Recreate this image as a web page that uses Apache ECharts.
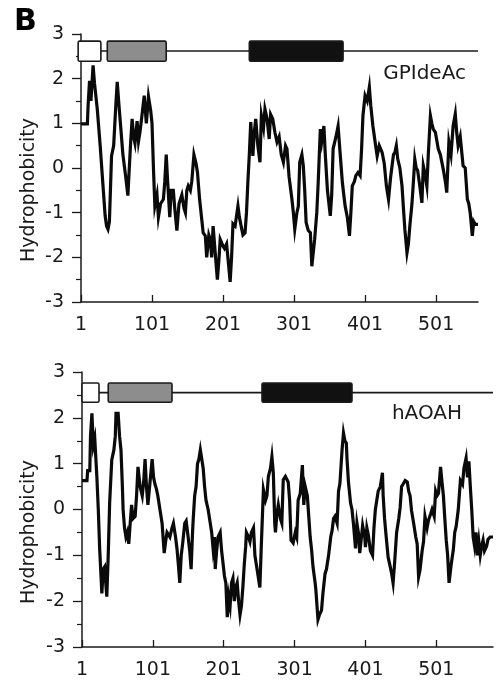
<!DOCTYPE html>
<html>
<head>
<meta charset="utf-8">
<script src="https://cdn.jsdelivr.net/npm/echarts@6/dist/echarts.min.js"></script>
<style>
html,body{margin:0;padding:0;background:#fff;}
#chart{width:499px;height:700px;}
</style>
</head>
<body>
<div id="chart"></div>
<script>
// ---- data ----
const xTickValues = [1, 101, 201, 301, 401, 501];
const panelLabel = 'B';
const yAxisTitle = 'Hydrophobicity';
const proteinNames = ['GPIdeAc', 'hAOAH'];
const proteinLengths = [560, 581];

// domain diagrams: [start, end, kind]
const gpideacDomains = [[-3, 29, 'open'], [38, 121, 'gray'], [238, 370, 'solid']];
const haoahDomains = [[1, 25, 'open'], [38, 128, 'gray'], [255, 382, 'solid']];

// hydrophobicity profiles: [residue, value]
const gpideacProfile = [
[1,0.99],[10,0.99],[11,1.4],[13,1.95],[15,1.5],[18,2.3],[20,1.9],[24,1.3],[28,0.5],[32,-0.4],
[35,-1.07],[37,-1.3],[39,-1.37],[41,-1.2],[44,0.27],[47,0.5],[50,1.4],[52,1.93],[54,1.5],[57,0.9],
[60,0.3],[64,-0.2],[67,-0.62],[69,0.0],[71,0.6],[73,1.1],[75,0.7],[77,0.55],[80,1.05],[82,0.6],
[84,0.8],[87,1.2],[90,1.62],[93,1.0],[96,1.6],[99,1.3],[101,1.0],[103,0.0],[105,-0.85],[108,-0.6],
[110,-1.1],[113,-0.8],[117,-0.7],[119,-0.3],[121,0.3],[123,-0.3],[126,-1.1],[128,-0.5],[131,-0.5],[133,-0.9],
[136,-1.4],[139,-0.8],[143,-0.6],[146,-0.9],[148,-1.0],[150,-0.5],[152,-0.4],[155,-0.5],[157,-0.3],[160,0.3],
[163,0.1],[165,-0.1],[168,-0.7],[170,-1.0],[173,-1.45],[176,-1.52],[178,-2.0],[181,-1.5],[183,-1.6],[185,-2.0],
[187,-1.3],[190,-1.9],[193,-2.5],[195,-2.1],[197,-1.6],[201,-1.75],[203,-1.8],[206,-1.7],[209,-2.2],[211,-2.55],
[213,-2.0],[215,-1.25],[218,-1.3],[222,-0.85],[224,-1.1],[226,-1.1],[229,-1.5],[232,-1.45],[234,-1.0],[236,-0.3],
[238,0.3],[240,1.03],[243,0.27],[245,0.8],[247,1.1],[250,0.5],[253,0.13],[255,1.17],[258,0.9],[260,1.32],
[263,1.1],[266,0.65],[268,1.2],[271,1.1],[274,0.8],[277,0.58],[280,0.7],[283,0.3],[286,0.13],[289,0.5],
[291,0.43],[294,-0.2],[298,-0.7],[300,-1.0],[302,-1.37],[305,-1.0],[307,-0.86],[309,0.13],[312,0.3],[314,0.05],
[316,-0.5],[318,-1.22],[321,-1.4],[324,-1.45],[326,-2.2],[328,-1.9],[330,-1.6],[333,-1.0],[335,-0.32],[338,0.87],
[340,0.6],[343,0.94],[345,0.3],[348,-0.5],[352,-1.07],[354,-0.6],[356,0.43],[360,0.7],[363,0.94],[366,0.3],
[369,-0.32],[371,-0.6],[373,-0.86],[376,-1.1],[379,-1.52],[381,-1.0],[383,-0.4],[386,-0.3],[388,-0.17],[391,-0.1],
[394,-0.17],[396,0.4],[398,1.17],[401,1.62],[404,1.5],[407,1.81],[409,1.4],[412,0.94],[415,0.6],[418,0.27],
[421,0.5],[425,0.35],[428,0.1],[431,-0.4],[434,-0.7],[437,-0.2],[439,0.05],[441,0.3],[443,0.35],[445,0.5],
[447,0.2],[450,0.0],[453,-0.4],[455,-0.9],[457,-1.37],[460,-1.9],[462,-1.7],[464,-1.3],[467,-0.8],[469,-0.32],
[471,0.2],[473,0.0],[475,-0.05],[478,-0.4],[481,-0.78],[483,0.05],[485,-0.1],[488,-0.4],[490,0.3],[493,1.17],
[495,1.0],[497,0.87],[500,0.8],[504,0.43],[507,0.3],[511,-0.02],[514,-0.3],[516,-0.55],[519,0.58],[522,0.3],
[525,0.94],[528,1.21],[530,0.8],[532,0.5],[535,0.7],[539,0.05],[542,0.0],[545,-0.7],[547,-0.8],[549,-1.0],
[552,-1.52],[554,-1.2],[556,-1.26],[560,-1.26]
];

const haoahProfile = [
[1,0.63],[8,0.63],[9,0.85],[12,0.85],[13,1.6],[15,2.1],[17,1.4],[19,1.55],[22,0.7],[24,0.0],
[26,-0.88],[28,-1.5],[29,-1.83],[31,-1.3],[33,-1.25],[35,-1.7],[36,-1.9],[38,-1.0],[40,0.14],[43,1.08],
[46,1.3],[48,1.6],[49,2.1],[52,2.1],[54,1.6],[56,1.3],[58,0.5],[59,0.0],[61,-0.4],[63,-0.6],
[65,-0.5],[67,-0.75],[69,-0.3],[71,0.1],[73,-0.2],[76,-0.15],[78,0.3],[80,0.93],[83,0.5],[86,0.3],
[88,0.6],[90,1.1],[92,0.5],[94,0.1],[97,0.6],[100,1.1],[102,0.7],[104,0.55],[106,0.45],[108,0.3],
[111,0.0],[114,-0.3],[117,-0.95],[119,-0.7],[121,-0.5],[123,-0.55],[125,-0.6],[128,-0.4],[130,-0.3],[133,-0.6],
[135,-0.85],[137,-1.2],[139,-1.6],[141,-1.0],[143,-0.75],[146,-0.3],[148,-0.25],[150,-0.5],[153,-0.9],[155,-1.3],
[157,-0.5],[158,-0.2],[160,0.3],[162,0.5],[164,1.0],[166,1.1],[168,1.3],[170,1.1],[172,0.9],[174,0.5],
[176,0.2],[179,0.0],[182,-0.3],[184,-0.5],[186,-0.85],[188,-0.6],[189,-1.3],[191,-0.9],[193,-0.6],[196,-0.5],
[198,-0.9],[200,-1.17],[202,-1.45],[204,-1.6],[206,-2.35],[208,-1.9],[210,-2.1],[212,-1.6],[214,-1.5],[216,-2.0],
[218,-1.7],[220,-1.6],[222,-2.0],[224,-2.3],[226,-2.1],[228,-1.7],[230,-1.2],[232,-0.8],[233,-0.5],[236,-0.6],
[238,-0.7],[240,-0.5],[243,-0.4],[245,-1.0],[247,-1.2],[250,-1.5],[252,-1.7],[254,-0.8],[257,0.43],[260,0.2],
[262,0.3],[264,0.72],[267,0.9],[269,1.15],[271,0.8],[273,-0.3],[274,-0.5],[276,-0.1],[278,0.1],[281,-0.2],
[283,-0.3],[285,0.65],[288,0.72],[290,0.75],[292,0.6],[294,0.2],[296,-0.67],[299,-0.73],[302,-0.5],[304,-0.6],
[306,0.2],[309,0.35],[312,0.97],[314,0.1],[316,0.5],[319,0.3],[321,-0.15],[323,-0.6],[325,-0.88],[327,-1.25],
[330,-1.6],[331,-1.75],[334,-2.4],[336,-2.3],[339,-2.2],[341,-1.83],[344,-1.4],[346,-1.3],[349,-1.0],[352,-0.6],
[354,-0.45],[356,-0.2],[358,-0.15],[361,-0.3],[363,0.4],[365,0.57],[368,1.3],[370,1.67],[372,1.5],[374,1.45],
[375,1.1],[377,0.6],[380,0.14],[382,0.0],[384,-0.3],[387,-0.85],[389,-0.3],[391,-0.5],[393,-0.95],[395,-0.65],
[397,-0.35],[400,-0.6],[401,-0.82],[403,-0.4],[405,-0.55],[408,-0.9],[411,-1.0],[413,-0.4],[415,0.0],[417,0.2],
[419,0.4],[422,0.5],[425,0.8],[426,0.3],[428,-0.2],[430,-0.55],[433,-1.04],[436,-1.25],[438,-1.4],[440,-1.6],
[442,-1.2],[445,-0.5],[448,-0.2],[450,0.05],[452,0.5],[454,0.55],[457,0.63],[460,0.6],[462,0.4],[464,0.3],
[466,-0.02],[469,-0.3],[472,-0.6],[474,-0.75],[476,-1.47],[478,-1.32],[481,-0.9],[483,-0.7],[485,-0.15],[488,-0.4],
[490,-0.23],[493,-0.1],[495,0.0],[498,-0.15],[500,0.4],[502,0.3],[504,0.35],[507,0.93],[509,0.6],[511,0.3],
[513,-0.2],[515,-0.67],[517,-1.0],[519,-1.6],[522,-1.2],[525,-0.88],[527,-0.5],[529,-0.37],[532,0.0],[535,0.63],
[538,0.55],[540,0.9],[543,1.12],[545,0.7],[547,1.05],[549,0.5],[551,0.0],[553,-0.6],[555,-0.8],[557,-0.5],
[559,-1.0],[561,-0.7],[563,-1.0],[565,-0.8],[567,-0.67],[569,-0.9],[572,-0.8],[574,-0.65],[577,-0.6],[581,-0.6]
];

// ---- chart ----
const FONT = 'DejaVu Sans';
const INK = '#1a1a1a';
const chart = echarts.init(document.getElementById('chart'), null, {renderer: 'canvas'});

const grids = [
  {left: 81, top: 34, width: 397, height: 268},
  {left: 82, top: 372, width: 411, height: 275}
];
const diagramY = [{line: 2.62, top: 2.84, bottom: 2.39}, {line: 2.55, top: 2.76, bottom: 2.34}];
const fills = {open: '#ffffff', gray: '#8d8d8d', solid: '#111111'};

function xAxisFor(i) {
  return {
    type: 'value', gridIndex: i, min: 1, max: proteinLengths[i],
    axisLine: {show: true, onZero: false, lineStyle: {color: INK, width: 1.5}},
    axisTick: {show: true, inside: true, length: 7, lineStyle: {color: INK, width: 1.3}, customValues: xTickValues},
    axisLabel: {show: true, customValues: xTickValues, margin: 14, color: INK, fontFamily: FONT, fontSize: 19},
    splitLine: {show: false}
  };
}
function yAxisFor(i) {
  return {
    type: 'value', gridIndex: i, min: -3, max: 3, interval: 1,
    axisLine: {show: true, onZero: false, lineStyle: {color: INK, width: 1.5}},
    axisTick: {show: true, inside: false, length: 9, lineStyle: {color: INK, width: 1.3}},
    minorTick: {show: true, splitNumber: 2, length: 5, lineStyle: {color: INK, width: 1.2}},
    axisLabel: {margin: 17, color: INK, fontFamily: FONT, fontSize: 19},
    splitLine: {show: false}
  };
}

function diagramSeries(i, domains) {
  const data = [[1, proteinLengths[i], 'backbone']].concat(domains);
  const d = diagramY[i];
  return {
    type: 'custom', xAxisIndex: i, yAxisIndex: i, clip: false, z: 5,
    data: data,
    renderItem: function (params, api) {
      const s = api.value(0), e = api.value(1);
      const kind = data[params.dataIndex][2];
      if (kind === 'backbone') {
        const p0 = api.coord([s, d.line]), p1 = api.coord([e, d.line]);
        return {type: 'line', shape: {x1: p0[0], y1: p0[1], x2: p1[0], y2: p1[1]},
                style: {stroke: INK, lineWidth: 1.6}};
      }
      const a = api.coord([s, d.top]), b = api.coord([e, d.bottom]);
      return {type: 'rect', shape: {x: a[0], y: a[1], width: b[0] - a[0], height: b[1] - a[1], r: 1.5},
              style: {fill: fills[kind], stroke: INK, lineWidth: 1.6}, z2: 10};
    }
  };
}

function profileSeries(i, profile) {
  return {
    type: 'line', xAxisIndex: i, yAxisIndex: i, data: profile,
    showSymbol: false, clip: false, z: 3,
    lineStyle: {color: '#0a0a0a', width: 3.2, join: 'miter'}
  };
}

const option = {
  animation: false,
  backgroundColor: '#ffffff',
  grid: grids,
  xAxis: [xAxisFor(0), xAxisFor(1)],
  yAxis: [yAxisFor(0), yAxisFor(1)],
  series: [
    profileSeries(0, gpideacProfile),
    profileSeries(1, haoahProfile),
    diagramSeries(0, gpideacDomains),
    diagramSeries(1, haoahDomains)
  ],
  graphic: [
    {type: 'text', x: 14, y: 7, style: {text: panelLabel, font: 'bold 30px "DejaVu Sans"', fill: '#000'}},
    {type: 'text', x: 466, y: 74, style: {text: proteinNames[0], font: '20px "DejaVu Sans"', fill: INK, align: 'right', verticalAlign: 'middle'}},
    {type: 'text', x: 462, y: 414, style: {text: proteinNames[1], font: '20px "DejaVu Sans"', fill: INK, align: 'right', verticalAlign: 'middle'}},
    {type: 'text', x: 29, y: 190, rotation: Math.PI / 2, style: {text: yAxisTitle, font: '19px "DejaVu Sans"', fill: INK, align: 'center', verticalAlign: 'middle'}},
    {type: 'text', x: 29, y: 532, rotation: Math.PI / 2, style: {text: yAxisTitle, font: '19px "DejaVu Sans"', fill: INK, align: 'center', verticalAlign: 'middle'}}
  ]
};
chart.setOption(option);
</script>
</body>
</html>
